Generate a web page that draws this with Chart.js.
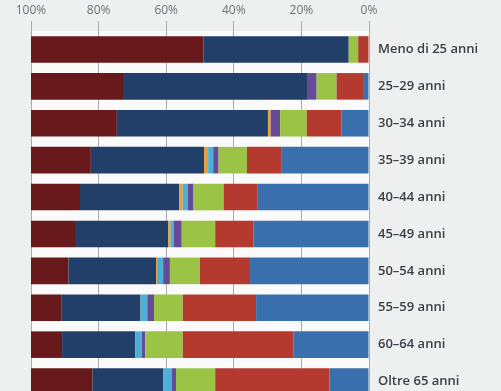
<!DOCTYPE html>
<html>
<head>
<meta charset="utf-8">
<script src="https://cdn.jsdelivr.net/npm/chart.js@4"></script>
<style>
  html, body { margin: 0; padding: 0; background: #eeefef; overflow: hidden; }
  canvas { display: block; }
</style>
</head>
<body>
<canvas id="chart" width="501" height="400"></canvas>
<script>
// fasce d'età (dall'alto in basso)
const categories = ['Meno di 25 anni', '25–29 anni', '30–34 anni', '35–39 anni', '40–44 anni',
  '45–49 anni', '50–54 anni', '55–59 anni', '60–64 anni', 'Oltre 65 anni'];

// quote in %, impilate a partire da 0% (a destra)
const steelBlue = [0, 1.5, 8.1, 26.0, 32.9, 34.2, 35.2, 33.4, 22.4, 11.7];
const red       = [3.2, 8.1, 10.3, 10.1, 10.1, 11.3, 14.8, 21.7, 32.7, 33.8];
const green     = [2.8, 5.9, 7.9, 8.4, 8.9, 9.9, 8.9, 8.5, 11.1, 11.6];
const purple    = [0, 2.6, 2.8, 1.6, 1.7, 2.3, 2.0, 2.0, 1.0, 1.3];
const cyan      = [0, 0, 0, 1.5, 1.5, 1.0, 1.8, 2.0, 2.0, 2.4];
const orange    = [0, 0, 0.8, 1.2, 1.1, 0.7, 0.3, 0, 0, 0];
const navy      = [43.0, 54.4, 44.7, 33.5, 29.3, 27.3, 25.9, 23.3, 21.6, 21.0];
const darkRed   = [51.0, 27.5, 25.4, 17.7, 14.5, 13.3, 11.1, 9.1, 9.2, 18.2];

const xTicks = [0, 20, 40, 60, 80, 100];

const series = [
  { data: steelBlue, color: '#3a6fae' },
  { data: red, color: '#b43a2f' },
  { data: green, color: '#9bc446' },
  { data: purple, color: '#674a95' },
  { data: cyan, color: '#4eafd6' },
  { data: orange, color: '#e2a141' },
  { data: navy, color: '#213f68' },
  { data: darkRed, color: '#68191b' }
];

// sfondo bianco dell'area del grafico
const areaBg = {
  id: 'areaBg',
  beforeDraw(chart) {
    const { ctx, chartArea: a } = chart;
    ctx.save();
    ctx.fillStyle = '#fafafa';
    ctx.fillRect(a.left, a.top, a.right - a.left, a.bottom - a.top);
    ctx.restore();
  }
};

new Chart(document.getElementById('chart'), {
  type: 'bar',
  data: {
    labels: categories,
    datasets: series.map(s => ({
      data: s.data,
      backgroundColor: s.color,
      borderWidth: 0,
      categoryPercentage: 1,
      barPercentage: 0.72
    }))
  },
  options: {
    indexAxis: 'y',
    responsive: false,
    animation: false,
    devicePixelRatio: 1,
    layout: { padding: { left: 31, top: 0, right: 0, bottom: 0 } },
    plugins: {
      legend: { display: false },
      tooltip: { enabled: false }
    },
    scales: {
      x: {
        position: 'top',
        stacked: true,
        reverse: true,
        min: 0,
        max: 100,
        afterBuildTicks: scale => { scale.ticks = xTicks.map(v => ({ value: v })); },
        afterFit: scale => { scale.height = 31; },
        border: { display: false },
        grid: { color: '#a9abad', lineWidth: 1, drawTicks: true, tickLength: 10 },
        ticks: {
          padding: 3,
          color: '#6c7179',
          font: { family: "'Open Sans', sans-serif", size: 12 },
          callback: v => v + '%'
        }
      },
      y: {
        position: 'right',
        stacked: true,
        afterFit: scale => {
          scale.width = 132;
          scale.paddingTop = 0;
          scale.paddingBottom = 0;
        },
        border: { display: false },
        grid: { display: false, drawTicks: false },
        ticks: {
          padding: 9,
          color: '#3b4048',
          font: { family: "'Open Sans', sans-serif", size: 13, weight: '600' }
        }
      }
    }
  },
  plugins: [areaBg]
});
</script>
</body>
</html>
